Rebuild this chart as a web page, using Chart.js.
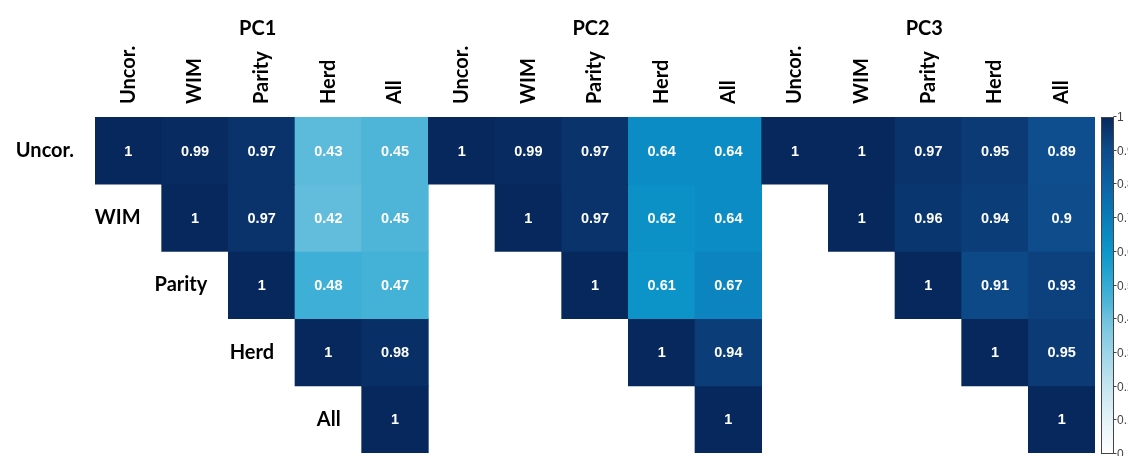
<!DOCTYPE html>
<html>
<head>
<meta charset="utf-8">
<script src="https://cdn.jsdelivr.net/npm/chart.js@4.4.1/dist/chart.umd.min.js"></script>
<style>
  html, body { margin: 0; padding: 0; background: #ffffff; }
  #wrap { width: 1128px; height: 456px; position: relative; }
</style>
</head>
<body>
<div id="wrap"><canvas id="corr"></canvas></div>
<script>
// Correction variants compared within each principal component
const variants = ['Uncor.', 'WIM', 'Parity', 'Herd', 'All'];
const components = ['PC1', 'PC2', 'PC3'];

// Upper-triangle correlations (row variant vs column variant)
const pc1 = [
  [1, 0.99, 0.97, 0.43, 0.45],
  [null, 1, 0.97, 0.42, 0.45],
  [null, null, 1, 0.48, 0.47],
  [null, null, null, 1, 0.98],
  [null, null, null, null, 1]
];
const pc2 = [
  [1, 0.99, 0.97, 0.64, 0.64],
  [null, 1, 0.97, 0.62, 0.64],
  [null, null, 1, 0.61, 0.67],
  [null, null, null, 1, 0.94],
  [null, null, null, null, 1]
];
const pc3 = [
  [1, 1, 0.97, 0.95, 0.89],
  [null, 1, 0.96, 0.94, 0.9],
  [null, null, 1, 0.91, 0.93],
  [null, null, null, 1, 0.95],
  [null, null, null, null, 1]
];
const colorbarTicks = [0, 0.1, 0.2, 0.3, 0.4, 0.5, 0.6, 0.7, 0.8, 0.9, 1];

// Colour ramp: white -> cyan blue -> navy
const colorStops = [
  [0.0, [255, 255, 255]],
  [0.1, [229, 243, 248]],
  [0.2, [197, 229, 240]],
  [0.3, [157, 212, 232]],
  [0.4, [112, 194, 223]],
  [0.45, [78, 181, 216]],
  [0.5, [52, 171, 212]],
  [0.6, [12, 150, 202]],
  [0.7, [10, 124, 186]],
  [0.8, [11, 98, 164]],
  [0.9, [14, 76, 140]],
  [1.0, [7, 40, 92]]
];

function rampColor(v) {
  if (v <= colorStops[0][0]) return 'rgb(' + colorStops[0][1].join(',') + ')';
  for (let i = 1; i < colorStops.length; i++) {
    const [v1, c1] = colorStops[i];
    const [v0, c0] = colorStops[i - 1];
    if (v <= v1) {
      const t = (v - v0) / (v1 - v0);
      const c = c0.map((x, k) => Math.round(x + (c1[k] - x) * t));
      return 'rgb(' + c.join(',') + ')';
    }
  }
  return 'rgb(' + colorStops[colorStops.length - 1][1].join(',') + ')';
}

// Lay the three matrices side by side: 15 columns, 5 rows
const matrices = [pc1, pc2, pc3];
const columnLabels = [];
components.forEach(() => variants.forEach(v => columnLabels.push(v)));

const datasets = variants.map((rowName, r) => {
  const values = [];
  const spans = [];
  matrices.forEach(m => {
    m[r].forEach(v => {
      values.push(v);
      spans.push(v === null ? null : [r, r + 1]);
    });
  });
  return {
    label: rowName,
    data: spans,
    corr: values,
    backgroundColor: ctx => {
      const v = ctx.dataset.corr[ctx.dataIndex];
      return v === null ? 'rgba(0,0,0,0)' : rampColor(v);
    },
    borderWidth: 0,
    grouped: false,
    barPercentage: 1,
    categoryPercentage: 1
  };
});

const labelFont = { family: 'Lato, "Liberation Sans", sans-serif', weight: 'bold', size: 20 };

// Writes the correlation value in the middle of each cell
const cellValues = {
  id: 'cellValues',
  afterDatasetsDraw(chart) {
    const ctx = chart.ctx;
    ctx.save();
    ctx.font = 'bold 14.5px "Liberation Sans", Arial, sans-serif';
    ctx.fillStyle = '#ffffff';
    ctx.textAlign = 'center';
    ctx.textBaseline = 'middle';
    chart.data.datasets.forEach((ds, di) => {
      const meta = chart.getDatasetMeta(di);
      meta.data.forEach((bar, i) => {
        const v = ds.corr[i];
        if (v === null) return;
        const yMid = (bar.y + bar.base) / 2;
        ctx.fillText(String(v), bar.x, yMid + 1);
      });
    });
    ctx.restore();
  }
};

// Component titles, row names beside the diagonal, and the colour bar
const decorations = {
  id: 'decorations',
  afterDraw(chart) {
    const ctx = chart.ctx;
    const xs = chart.scales.x;
    const ys = chart.scales.y;
    const area = chart.chartArea;
    const colW = xs.getPixelForValue(1) - xs.getPixelForValue(0);
    ctx.save();
    ctx.fillStyle = '#000000';
    ctx.font = 'bold 20px Lato, "Liberation Sans", sans-serif';
    ctx.textBaseline = 'middle';
    ctx.textAlign = 'center';
    components.forEach((name, p) => {
      const cx = xs.getPixelForValue(p * variants.length + 2) - 4;
      ctx.fillText(name, cx, 29);
    });
    ctx.textAlign = 'right';
    variants.forEach((name, r) => {
      const left = xs.getPixelForValue(r) - colW / 2;
      const y = ys.getPixelForValue(r + 0.5);
      ctx.fillText(name, left - 21, y);
    });

    // colour bar
    const bx = area.right + 6;
    const bw = 12;
    const top = area.top;
    const bottom = area.bottom + 1;
    for (let y = Math.floor(top); y < bottom; y++) {
      const v = (bottom - (y + 0.5)) / (bottom - top);
      ctx.fillStyle = rampColor(v);
      ctx.fillRect(bx, y, bw, 1);
    }
    ctx.strokeStyle = '#444444';
    ctx.lineWidth = 1;
    ctx.strokeRect(bx + 0.5, Math.floor(top) + 0.5, bw, Math.round(bottom - top) - 1);
    ctx.fillStyle = '#444444';
    ctx.font = '12px "Liberation Sans", Arial, sans-serif';
    ctx.textAlign = 'left';
    ctx.textBaseline = 'middle';
    colorbarTicks.forEach(t => {
      const y = Math.round(bottom - t * (bottom - top)) - 0.5;
      ctx.beginPath();
      ctx.moveTo(bx + bw + 0.5, y);
      ctx.lineTo(bx + bw + 3.5, y);
      ctx.stroke();
      ctx.fillText(String(t), bx + bw + 4, y + 1);
    });
    ctx.restore();
  }
};

new Chart(document.getElementById('corr'), {
  type: 'bar',
  data: { labels: columnLabels, datasets },
  options: {
    responsive: true,
    maintainAspectRatio: false,
    animation: false,
    events: [],
    layout: { padding: { left: 95, right: 33, top: 0, bottom: 3 } },
    plugins: { legend: { display: false }, tooltip: { enabled: false } },
    scales: {
      x: {
        type: 'category',
        position: 'top',
        grid: { display: false, drawTicks: false },
        border: { display: false },
        ticks: {
          autoSkip: false,
          minRotation: 90,
          maxRotation: 90,
          padding: 13,
          labelOffset: 24,
          color: '#000000',
          font: labelFont
        },
        afterFit(scale) {
          scale.height = 117;
          scale.paddingLeft = 0;
          scale.paddingRight = 0;
        }
      },
      y: {
        type: 'linear',
        min: 0,
        max: 5,
        reverse: true,
        display: false
      }
    }
  },
  plugins: [cellValues, decorations]
});
</script>
</body>
</html>
